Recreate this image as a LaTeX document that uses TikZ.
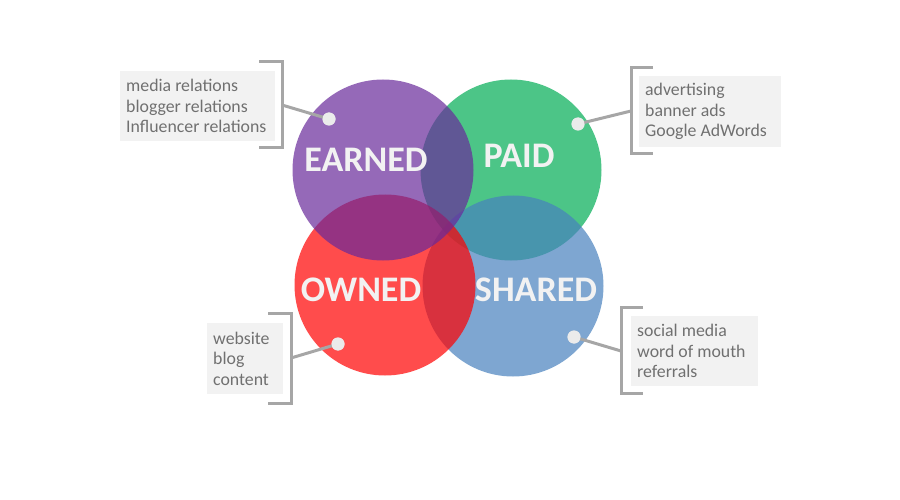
\documentclass[tikz,border=0pt]{standalone}
\usepackage{fontspec}
\setmainfont{Carlito}
\definecolor{cgreen}{RGB}{0,172,84}
\definecolor{cblue}{RGB}{71,128,189}
\definecolor{cred}{RGB}{255,0,0}
\definecolor{cpurple}{RGB}{104,41,154}
\definecolor{brk}{RGB}{166,166,166}
\definecolor{boxfill}{RGB}{242,242,242}
\definecolor{boxtext}{RGB}{112,112,112}
\definecolor{dotfill}{RGB}{235,235,235}
\definecolor{labtext}{RGB}{242,242,242}
\begin{document}
\begin{tikzpicture}[x=1pt,y=-1pt,
  circ/.style={circle,minimum size=181pt,inner sep=0pt,fill opacity=0.7,draw=none},
  biglabel/.style={font=\fontsize{36}{40}\selectfont\bfseries,text=labtext,inner sep=0pt},
  dotnode/.style={circle,fill=dotfill,minimum size=13pt,inner sep=0pt},
  bracketline/.style={draw=brk,line width=3pt},
  conn/.style={draw=brk,line width=3pt},
  tbox/.style={fill=boxfill,inner sep=0pt},
  btext/.style={font=\fontsize{17.8}{20.5}\selectfont,text=boxtext,align=left,inner sep=0pt}]
\useasboundingbox (0,0) rectangle (900,500);
% circles
\node[circ,fill=cgreen] (paidc) at (511,170) {};
\node[circ,fill=cblue] (sharedc) at (513,286) {};
\node[circ,fill=cred] (ownedc) at (385,285) {};
\node[circ,fill=cpurple] (earnedc) at (383,170) {};
% labels
\node[biglabel] (earnedl) at (366,160) {EARNED};
\node[biglabel] (paidl) at (519,156) {PAID};
\node[biglabel] (ownedl) at (361,290) {OWNED};
\node[biglabel] (sharedl) at (536,290) {SHARED};
% text boxes
\node[tbox,minimum width=155pt,minimum height=70pt,anchor=north west] (boxE) at (120,71) {};
\node[btext,anchor=west] (txtE) at ([xshift=6pt]boxE.west) {media relations\\blogger relations\\Influencer relations};
\node[tbox,minimum width=142pt,minimum height=71pt,anchor=north west] (boxP) at (639,76) {};
\node[btext,anchor=west] (txtP) at ([xshift=6pt]boxP.west) {advertising\\banner ads\\Google AdWords};
\node[tbox,minimum width=76pt,minimum height=71pt,anchor=north west] (boxO) at (207,323) {};
\node[btext,anchor=west] (txtO) at ([xshift=6pt]boxO.west) {website\\blog\\content};
\node[tbox,minimum width=127pt,minimum height=70pt,anchor=north west] (boxS) at (631,316) {};
\node[btext,anchor=west] (txtS) at ([xshift=6pt]boxS.west) {social media\\word of mouth\\referrals};
% brackets
\draw[bracketline] (259,62) -- (282,62) -- (282,148) -- (259,148);
\draw[bracketline] (653,68) -- (631,68) -- (631,154) -- (653,154);
\draw[bracketline] (268,313) -- (291,313) -- (291,403) -- (268,403);
\draw[bracketline] (643,307) -- (621,307) -- (621,393) -- (643,393);
% connector anchors
\coordinate (bE) at (282,105);
\coordinate (bP) at (631,111);
\coordinate (bO) at (291,358);
\coordinate (bS) at (621,351);
% dots
\node[dotnode] (dotE) at (329,119) {};
\node[dotnode] (dotP) at (578,124) {};
\node[dotnode] (dotO) at (338,344) {};
\node[dotnode] (dotS) at (574,337) {};
% connectors
\draw[conn] (bE) -- (dotE.center);
\draw[conn] (bP) -- (dotP.center);
\draw[conn] (bO) -- (dotO.center);
\draw[conn] (bS) -- (dotS.center);
% redraw dots on top
\node[dotnode] at (dotE) {};
\node[dotnode] at (dotP) {};
\node[dotnode] at (dotO) {};
\node[dotnode] at (dotS) {};
\end{tikzpicture}
\end{document}
